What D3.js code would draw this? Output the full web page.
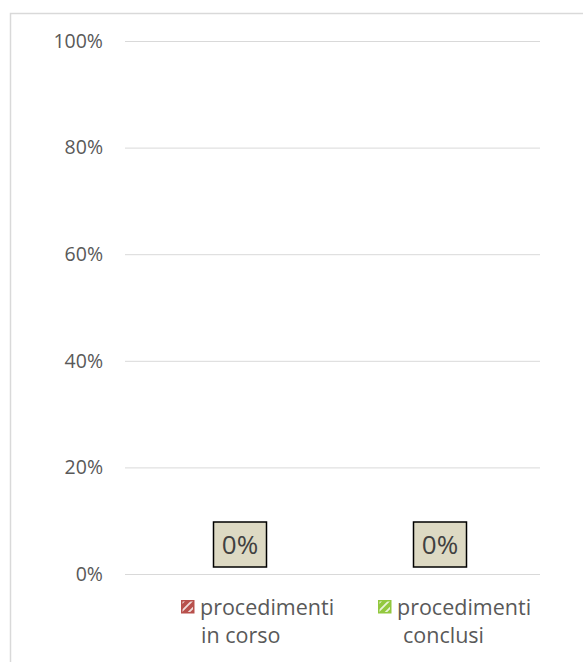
<!DOCTYPE html>
<html><head><meta charset="utf-8">
<script src="https://cdn.jsdelivr.net/npm/d3@7"></script>
<style>html,body{margin:0;padding:0;background:#fff;}svg{display:block;}</style>
</head><body>
<svg id="c" width="583" height="662"></svg>
<script>
const categories = ["procedimenti in corso", "procedimenti conclusi"];
const legendLines = [["procedimenti", "in corso"], ["procedimenti", "conclusi"]];
const values = [0, 0];
const dataLabels = ["0%", "0%"];
const yTicks = [0, 0.2, 0.4, 0.6, 0.8, 1.0];
const colors = ["#b8504c", "#92c83e"];

const svg = d3.select("#c");
const font = "'Open Sans', sans-serif";

// chart border
svg.append("path").attr("d", "M10.5,680 V13.5 H590").attr("fill", "none")
  .attr("stroke", "#d9d9d9").attr("stroke-width", 1.5);

const defs = svg.append("defs");
colors.forEach((c, i) => {
  const p = defs.append("pattern").attr("id", "pat" + i).attr("patternUnits", "userSpaceOnUse")
    .attr("width", 8).attr("height", 8);
  p.append("rect").attr("width", 8).attr("height", 8).attr("fill", c);
  p.append("path").attr("d", "M-2,6 L6,-2 M2,10 L10,2").attr("stroke", "#fff").attr("stroke-width", 1.8).attr("opacity", 0.8);
});

const y = d3.scaleLinear().domain([0, 1]).range([574, 41]);
const x = d3.scaleBand().domain(categories).range([140, 540]).paddingInner(0.5).paddingOuter(0.25);

// gridlines + axis labels
const yAxis = d3.axisLeft(y).tickValues(yTicks).tickFormat(d3.format(".0%"))
  .tickSize(-415).tickPadding(22);
const gy = svg.append("g").attr("transform", "translate(125,0)").call(yAxis);
gy.select(".domain").remove();
gy.selectAll("line").attr("stroke", "#d9d9d9").attr("stroke-width", 1);
gy.selectAll("text").attr("fill", "#595959").attr("font-family", font).attr("font-size", 19.5);

// bars (zero height)
svg.selectAll("rect.bar").data(values).join("rect").attr("class", "bar")
  .attr("x", (d, i) => x(categories[i])).attr("width", x.bandwidth())
  .attr("y", d => y(d)).attr("height", d => y(0) - y(d))
  .attr("fill", (d, i) => `url(#pat${i})`);

// data labels
const lab = svg.selectAll("g.lab").data(values).join("g").attr("class", "lab")
  .attr("transform", (d, i) => `translate(${x(categories[i]) + x.bandwidth() / 2},${y(d) - 7})`);
lab.append("rect").attr("x", -26.5).attr("y", -45).attr("width", 53).attr("height", 45)
  .attr("fill", "#ddd9c3").attr("stroke", "#000").attr("stroke-width", 1.5);
lab.append("text").attr("text-anchor", "middle").attr("y", -13)
  .attr("font-family", font).attr("font-size", 26).attr("fill", "#404040")
  .text((d, i) => dataLabels[i]);

// legend
const legX = [181, 378];
const lg = svg.selectAll("g.leg").data(categories).join("g").attr("class", "leg")
  .attr("transform", (d, i) => `translate(${legX[i]},600)`);
lg.append("rect").attr("x", 0.75).attr("y", 0.75).attr("width", 12).attr("height", 12)
  .attr("fill", (d, i) => `url(#pat${i})`).attr("stroke", (d, i) => colors[i]).attr("stroke-width", 1.5);
lg.each(function(d, i) {
  const t = d3.select(this).append("text").attr("font-family", font).attr("font-size", 21.5).attr("fill", "#595959");
  legendLines[i].forEach((ln, j) => {
    t.append("tspan").attr("x", 19 + (j === 1 ? (i === 1 ? 6 : 1) : 0)).attr("y", 15 + j * 28).text(ln);
  });
});
</script>
</body></html>
